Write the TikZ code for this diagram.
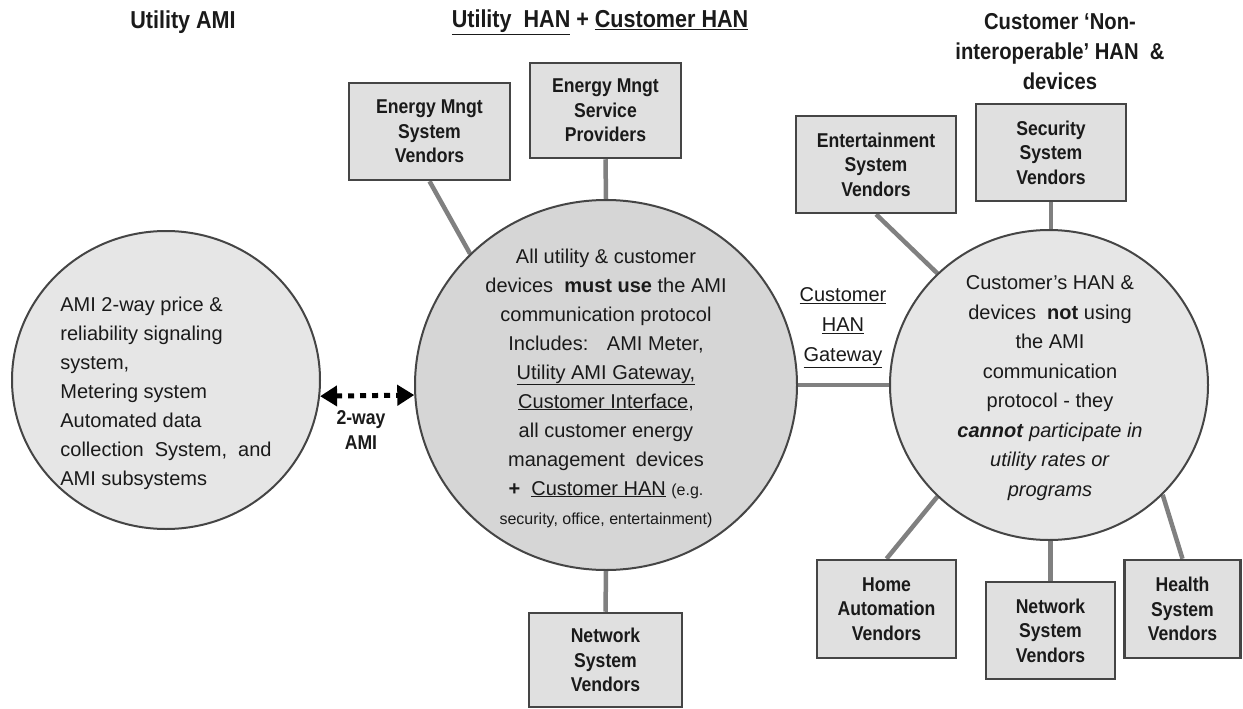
\documentclass[tikz,border=0pt]{standalone}
\usepackage{fontspec}
\setmainfont{Liberation Sans}
\newfontfamily\condbold[FakeStretch=0.88,Ligatures=TeX]{Liberation Sans Bold}
\usetikzlibrary{shapes.geometric,arrows.meta}
\definecolor{edge}{HTML}{454545}
\definecolor{conn}{HTML}{808080}
\definecolor{boxfill}{HTML}{E0E0E0}
\definecolor{lightfill}{HTML}{E6E6E6}
\definecolor{midfill}{HTML}{D6D6D6}
\definecolor{txt}{HTML}{1A1A1A}
\pgfdeclarelayer{bg}
\pgfsetlayers{bg,main}
\tikzset{
  vbox/.style={draw=edge, line width=2.5pt, fill=boxfill, inner sep=0pt, align=center,
    text=txt, font=\fontsize{20}{24.5}\condbold},
  bigc/.style={ellipse, draw=edge, line width=2pt, inner sep=0pt},
  link/.style={draw=conn, line width=4.5pt},
  ttl/.style={font=\fontsize{24.5}{30}\condbold, text=txt, align=center, inner sep=0pt},
  ctext/.style={font=\fontsize{20}{29}\selectfont, text=txt, align=center, inner sep=0pt},
}
\begin{document}
\begin{tikzpicture}[x=1pt,y=-1pt]
\useasboundingbox (0,0) rectangle (1243,709);

% titles
\node[ttl] (t1) at (183,22) {Utility AMI};
\node[ttl] (t2) at (600,22) {\underline{Utility\ \ HAN} + \underline{Customer HAN}};
\node[ttl, font=\fontsize{23}{30}\condbold] (t3) at (1060,52) {Customer ‘Non-\\interoperable’ HAN \ \&\\devices};

% circles
\node[bigc, fill=lightfill, minimum width=308pt, minimum height=298pt] (lc) at (166,380) {};
\node[bigc, fill=midfill, minimum width=382pt, minimum height=370pt] (mc) at (606,385) {};
\node[bigc, fill=lightfill, minimum width=318pt, minimum height=310pt] (rc) at (1049,385) {};

% circle texts
\node[ctext, align=left] (ltxt) at (166,393) {AMI 2-way price \&\\reliability signaling\\system,\\Metering system\\Automated data\\collection \ System, \ and\\AMI subsystems};
\node[ctext] (mtxt) at (606,388) {All utility \& customer\\devices \ \textbf{must use} the AMI\\communication protocol\\Includes: \ \ AMI Meter,\\\underline{Utility AMI Gateway,}\\\underline{Customer Interface},\\all customer energy\\management \ devices\\\textbf{+} \ \underline{Customer HAN} {\fontsize{16}{29}\selectfont(e.g.}\\{\fontsize{16}{29}\selectfont security, office, entertainment)}};
\node[ctext, font=\fontsize{20}{29.5}\selectfont] (rtxt) at (1050,388) {Customer’s HAN \&\\devices \ \textbf{not} using\\the AMI\\communication\\protocol - they\\\textbf{\textit{cannot}} \textit{participate in}\\\textit{utility rates or}\\\textit{programs}};

% boxes
\node[vbox, minimum width=161pt, minimum height=97pt] (esv) at (429.5,131.5) {Energy Mngt\\System\\Vendors};
\node[vbox, minimum width=151pt, minimum height=95pt] (esp) at (605.5,110.5) {Energy Mngt\\Service\\Providers};
\node[vbox, minimum width=160pt, minimum height=97pt] (ent) at (876,164.5) {Entertainment\\System\\Vendors};
\node[vbox, minimum width=150pt, minimum height=97pt] (sec) at (1051,152.5) {Security\\System\\Vendors};
\node[vbox, minimum width=153pt, minimum height=94pt] (nsva) at (605.5,660) {Network\\System\\Vendors};
\node[vbox, minimum width=139pt, minimum height=98pt] (hav) at (886.5,609) {Home\\Automation\\Vendors};
\node[vbox, minimum width=129pt, minimum height=97pt] (nsvb) at (1050.5,630.5) {Network\\System\\Vendors};
\node[vbox, minimum width=116pt, minimum height=98pt] (hsv) at (1182.5,609) {Health\\System\\Vendors};

% connectors
\begin{pgfonlayer}{bg}
\draw[link] (esv.south) -- (mc.136);
\draw[link] (esp.south) -- (mc.north);
\draw[link] (mc.south) -- (nsva.north);
\draw[link] (ent.south) -- (rc.135);
\draw[link] (sec.south) -- (sec.south |- rc.north);
\draw[link] (hav.north) -- (rc.225);
\draw[link] (nsvb.north) -- (nsvb.north |- rc.south);
\draw[link] (hsv.north) -- (rc.316);
\draw[link] (mc.east) -- (rc.west);
\end{pgfonlayer}

% gateway label
\node[ctext, font=\fontsize{20}{30}\selectfont] (gw) at (843,328) {\underline{Customer}\\\underline{HAN}\\\underline{Gateway}};

% 2-way AMI arrow
\draw[line width=5pt, dash pattern=on 6pt off 6pt, draw=black,
  {Triangle[length=17pt,width=20pt]}-{Triangle[length=17pt,width=20pt]}] (lc.-6) -- (mc.183);
\node[ttl, font=\fontsize{20}{25}\condbold] (aw) at (361,430) {2-way\\AMI};
\end{tikzpicture}
\end{document}
